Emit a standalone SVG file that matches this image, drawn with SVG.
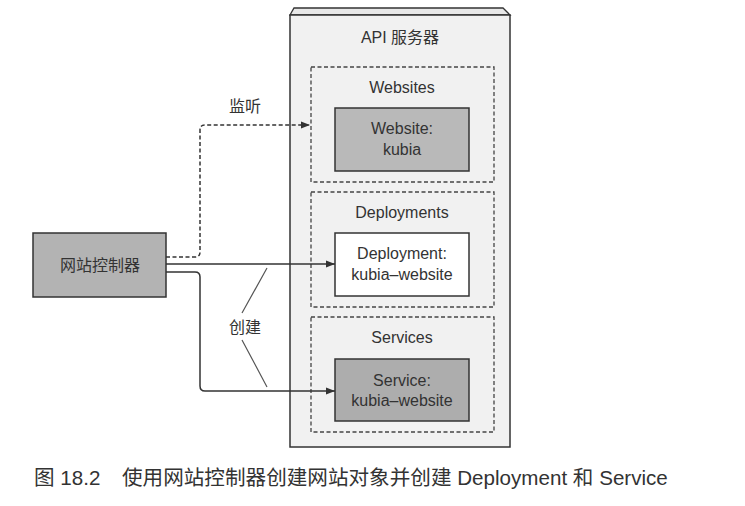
<svg xmlns="http://www.w3.org/2000/svg" width="745" height="506" viewBox="0 0 745 506">
<style>
text{font-family:"Liberation Sans","Noto Sans CJK SC",sans-serif;fill:#333;text-anchor:middle}
.lbl{font-size:16px}
.cap{font-size:20.6px;text-anchor:start}
.dash{fill:none;stroke:#444;stroke-width:1.3;stroke-dasharray:4,2.5}
.obj{stroke:#333;stroke-width:1.5}
.conn{fill:none;stroke:#333;stroke-width:1.5}
</style>
<defs>
<marker id="arr" markerWidth="10" markerHeight="8" refX="9" refY="4" orient="auto" markerUnits="userSpaceOnUse">
<path d="M0,0.5 L9,4 L0,7.5 Z" fill="#333"/>
</marker>
</defs>
<rect width="745" height="506" fill="#fff"/>
<g id="api-server">
<path d="M290,15 L294,8 L503,8 L510,15 Z" fill="#e8e8e8" stroke="#333" stroke-width="1.3"/>
<rect x="290" y="15" width="220" height="432" fill="#f1f1f1" stroke="#333" stroke-width="1.5"/>
<text x="400" y="43" class="lbl">API 服务器</text>
</g>
<g id="websites">
<rect x="311" y="67" width="183" height="115" class="dash"/>
<text x="402" y="93" class="lbl">Websites</text>
</g>
<g id="website-kubia">
<rect x="335" y="108" width="134" height="63" fill="#b9b9b9" class="obj"/>
<text x="402" y="134" class="lbl">Website:</text>
<text x="402" y="155" class="lbl">kubia</text>
</g>
<g id="deployments">
<rect x="311" y="192" width="183" height="115" class="dash"/>
<text x="402" y="218" class="lbl">Deployments</text>
</g>
<g id="deployment-kubia-website">
<rect x="335" y="233" width="134" height="63" fill="#fff" class="obj"/>
<text x="402" y="259" class="lbl">Deployment:</text>
<text x="402" y="280" class="lbl">kubia–website</text>
</g>
<g id="services">
<rect x="311" y="317" width="183" height="115" class="dash"/>
<text x="402" y="343" class="lbl">Services</text>
</g>
<g id="service-kubia-website">
<rect x="335" y="359" width="134" height="62" fill="#adadad" class="obj"/>
<text x="402" y="386" class="lbl">Service:</text>
<text x="402" y="406" class="lbl">kubia–website</text>
</g>
<g id="controller">
<rect x="33" y="233" width="133" height="64" fill="#b3b3b3" class="obj"/>
<text x="100" y="271" class="lbl">网站控制器</text>
</g>
<g id="connectors">
<path d="M166,257 L195,257 Q200,257 200,252 L200,130 Q200,125 205,125 L310,125" class="conn" stroke-dasharray="4,2.5" marker-end="url(#arr)"/>
<path d="M166,264 L335,264" class="conn" marker-end="url(#arr)"/>
<path d="M166,272 L195,272 Q200,272 200,277 L200,386 Q200,391 205,391 L335,391" class="conn" marker-end="url(#arr)"/>
<path d="M267,268 L242,313 M242,340 L267,387" fill="none" stroke="#555" stroke-width="1.2"/>
<text x="245" y="112" class="lbl">监听</text>
<text x="245" y="333" class="lbl">创建</text>
</g>
<g id="caption">
<text x="34" y="485" class="cap">图 18.2</text>
<text x="122" y="485" class="cap">使用网站控制器创建网站对象并创建 Deployment 和 Service</text>
</g>
</svg>
